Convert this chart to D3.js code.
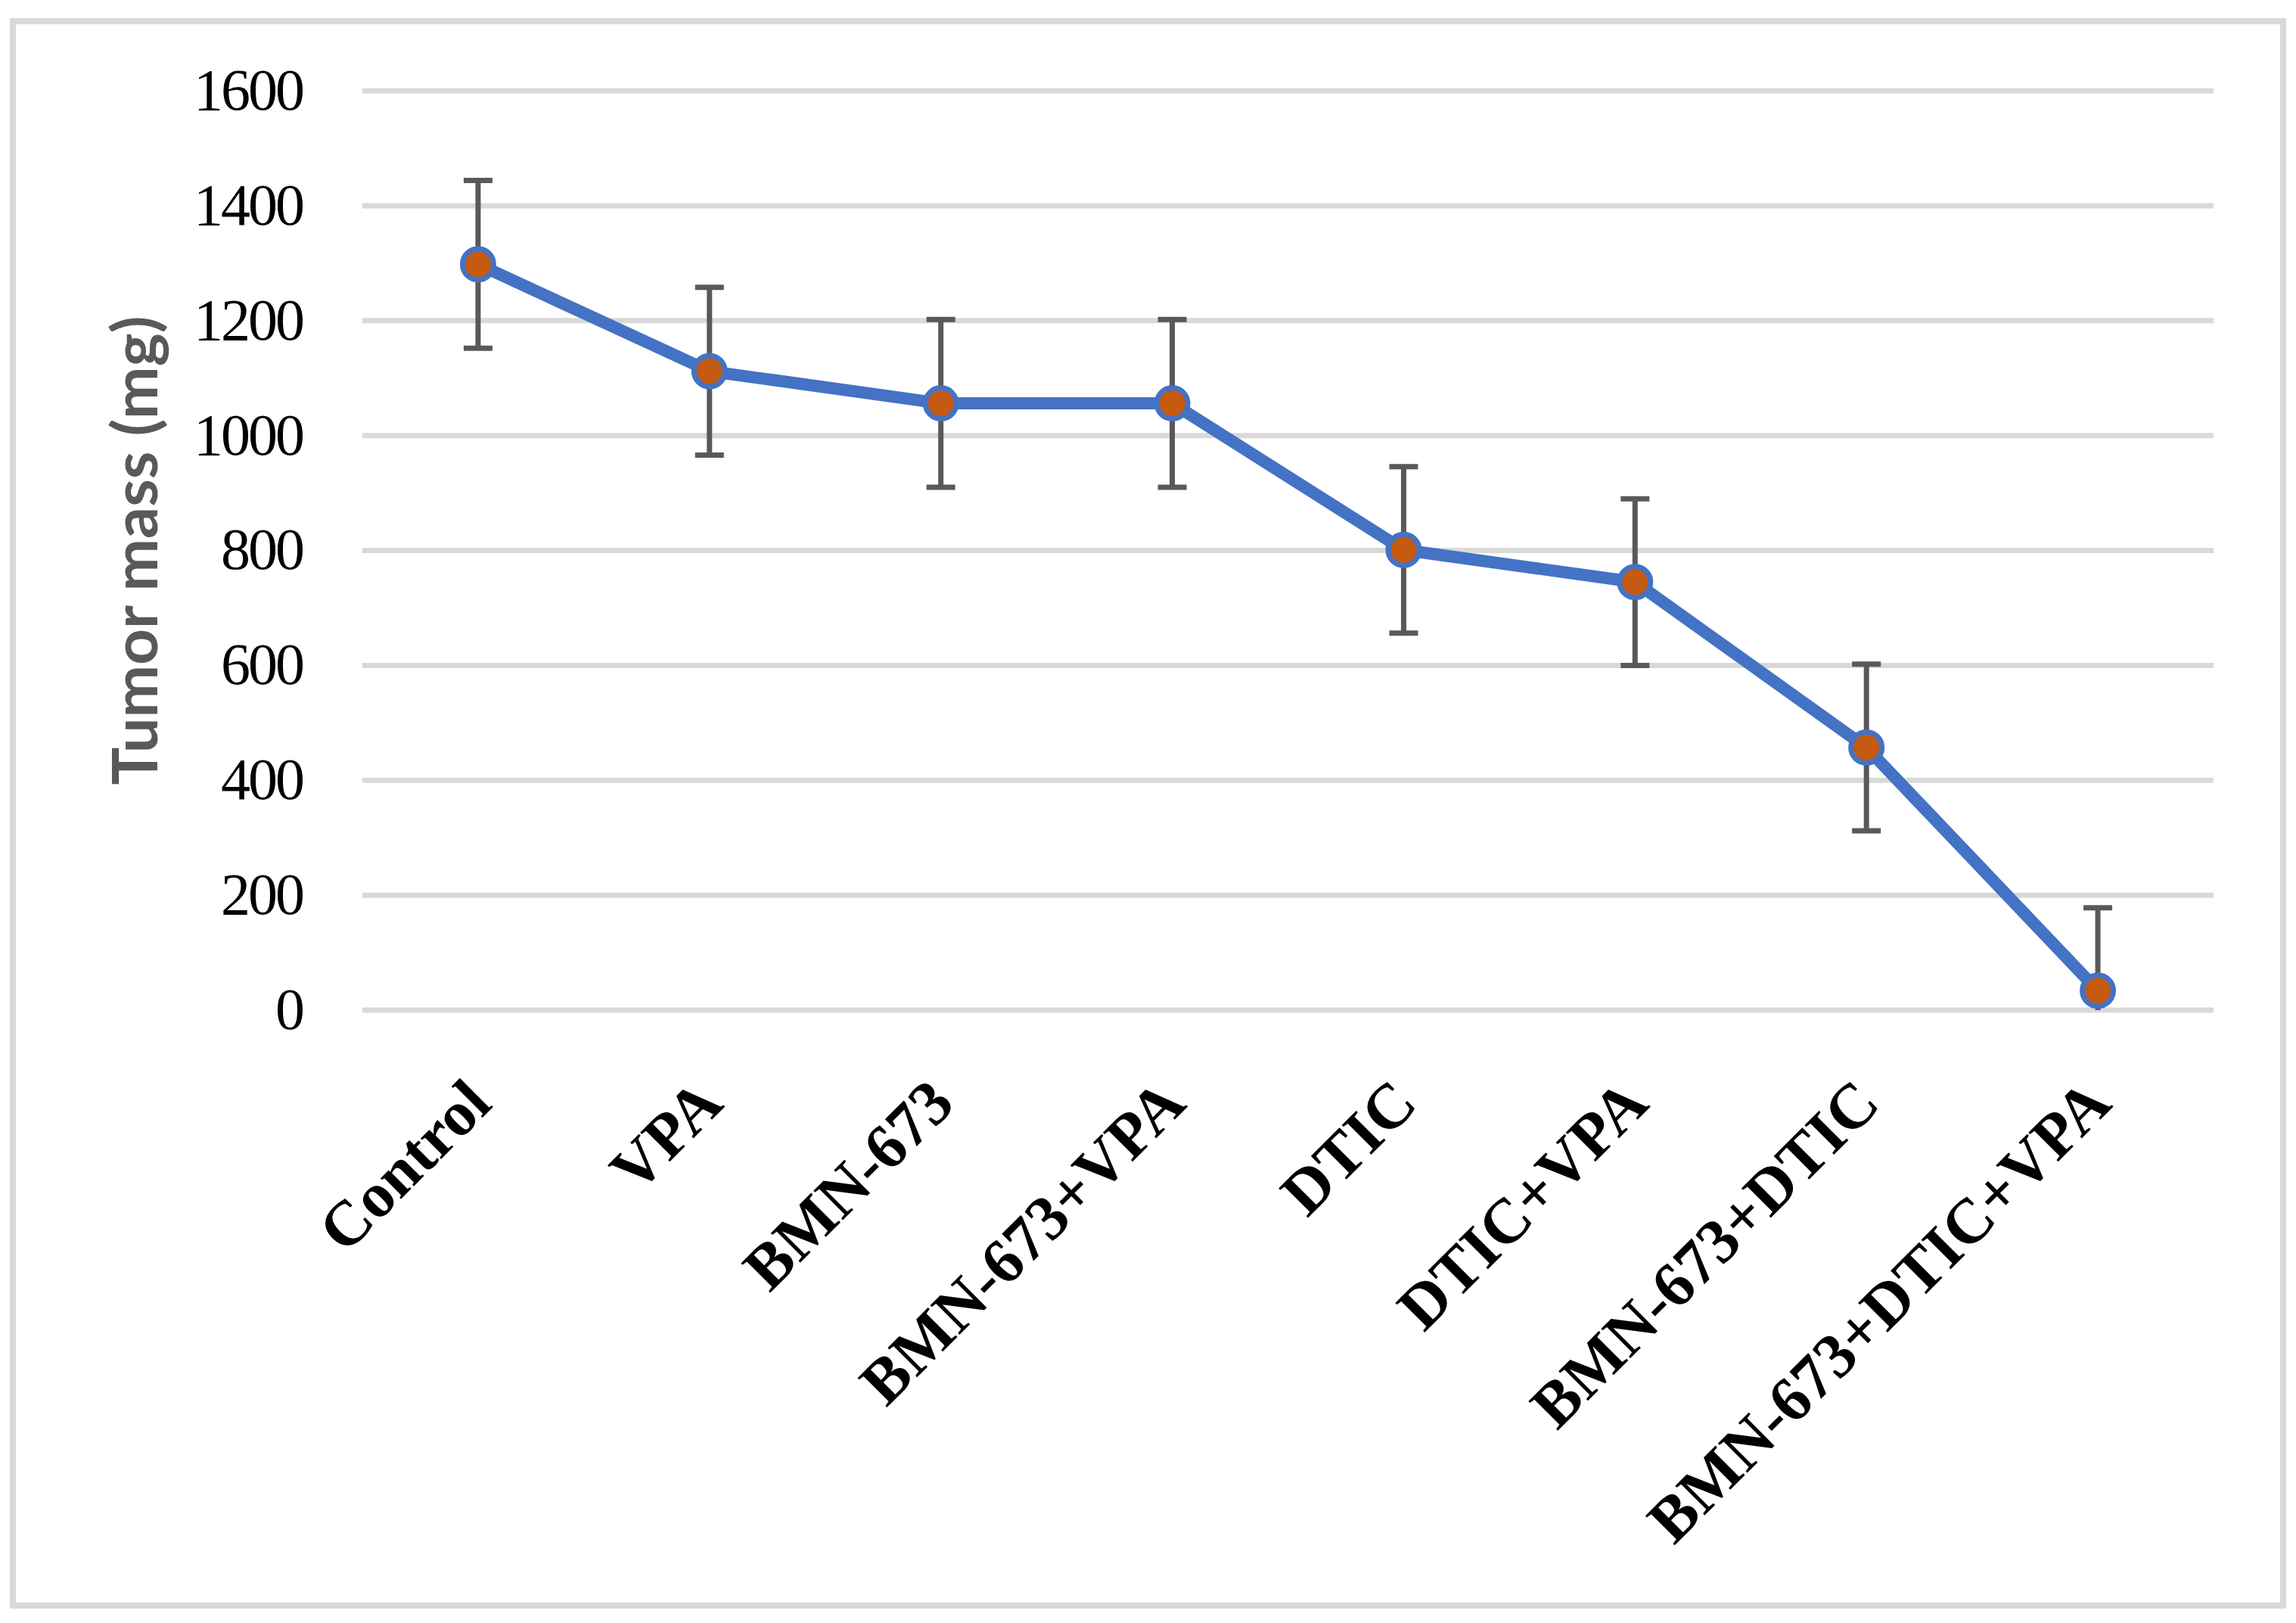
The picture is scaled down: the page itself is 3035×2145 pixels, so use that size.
<!DOCTYPE html>
<html>
<head>
<meta charset="utf-8">
<script src="https://cdn.jsdelivr.net/npm/d3@7"></script>
<style>
  html, body { margin: 0; padding: 0; background: #ffffff; }
  svg { display: block; }
</style>
</head>
<body>
<script>
const categories = ["Control", "VPA", "BMN-673", "BMN-673+VPA", "DTIC", "DTIC+VPA", "BMN-673+DTIC", "BMN-673+DTIC+VPA"];
const tumorMass = [1298, 1112, 1056, 1056, 801, 745, 457, 34];
const errors = [146, 146, 146, 146, 145, 145, 145, 144];
const yTicks = [0, 200, 400, 600, 800, 1000, 1200, 1400, 1600];
const yTitle = "Tumor mass (mg)";

const W = 3035, H = 2145;
const plot = { left: 479, right: 2926, top: 120, bottom: 1335 };

const svg = d3.select("body").append("svg").attr("width", W).attr("height", H);

// outer border
svg.append("rect")
  .attr("x", 17).attr("y", 28).attr("width", 3001).attr("height", 2094)
  .attr("fill", "#ffffff").attr("stroke", "#d9d9d9").attr("stroke-width", 8);

const x = d3.scaleBand().domain(categories).range([plot.left, plot.right]);
const y = d3.scaleLinear().domain([0, 1600]).range([plot.bottom, plot.top]);
const cx = d => x(d) + x.bandwidth() / 2;

// gridlines
svg.append("g").selectAll("line").data(yTicks).join("line")
  .attr("x1", plot.left).attr("x2", plot.right)
  .attr("y1", d => y(d)).attr("y2", d => y(d))
  .attr("stroke", "#d9d9d9").attr("stroke-width", 7);

// y tick labels
svg.append("g").selectAll("text").data(yTicks).join("text")
  .attr("x", 400).attr("y", d => y(d))
  .attr("dy", "0.32em")
  .attr("text-anchor", "end")
  .attr("font-family", "'Liberation Serif', 'Times New Roman', serif")
  .attr("font-size", 78)
  .attr("letter-spacing", -3)
  .attr("fill", "#000")
  .text(d => d);

// y title
svg.append("text")
  .attr("transform", `translate(208, ${(plot.top + plot.bottom) / 2}) rotate(-90)`)
  .attr("text-anchor", "middle")
  .attr("font-family", "Lato, 'Liberation Sans', sans-serif")
  .attr("font-weight", "bold")
  .attr("font-size", 82)
  .attr("fill", "#595959")
  .attr("textLength", 620)
  .attr("lengthAdjust", "spacingAndGlyphs")
  .text(yTitle);

// x labels rotated -45
svg.append("g").selectAll("text").data(categories).join("text")
  .attr("transform", d => `translate(${cx(d) + 21}, 1462) rotate(-45)`)
  .attr("text-anchor", "end")
  .attr("font-family", "'Liberation Serif', 'Times New Roman', serif")
  .attr("font-weight", "bold")
  .attr("font-size", 84)
  .attr("fill", "#000")
  .text(d => d);

const data = categories.map((c, i) => ({ c, v: tumorMass[i], e: errors[i] }));

// error bars
const eb = svg.append("g").attr("stroke", "#595959").attr("stroke-width", 7);
data.forEach(d => {
  const top = y(d.v + d.e), bot = y(Math.max(0, d.v - d.e));
  eb.append("line").attr("x1", cx(d.c)).attr("x2", cx(d.c)).attr("y1", top).attr("y2", bot);
  eb.append("line").attr("x1", cx(d.c) - 19).attr("x2", cx(d.c) + 19).attr("y1", top).attr("y2", top);
  if (d.v - d.e > 0) {
    eb.append("line").attr("x1", cx(d.c) - 19).attr("x2", cx(d.c) + 19).attr("y1", bot).attr("y2", bot);
  }
});

// line
svg.append("path")
  .datum(data)
  .attr("fill", "none")
  .attr("stroke", "#4472c4")
  .attr("stroke-width", 16)
  .attr("stroke-linejoin", "round")
  .attr("d", d3.line().x(d => cx(d.c)).y(d => y(d.v)));

// markers
svg.append("g").selectAll("circle").data(data).join("circle")
  .attr("cx", d => cx(d.c)).attr("cy", d => y(d.v))
  .attr("r", 20.5)
  .attr("fill", "#c55a11")
  .attr("stroke", "#4472c4")
  .attr("stroke-width", 7);
</script>
</body>
</html>
